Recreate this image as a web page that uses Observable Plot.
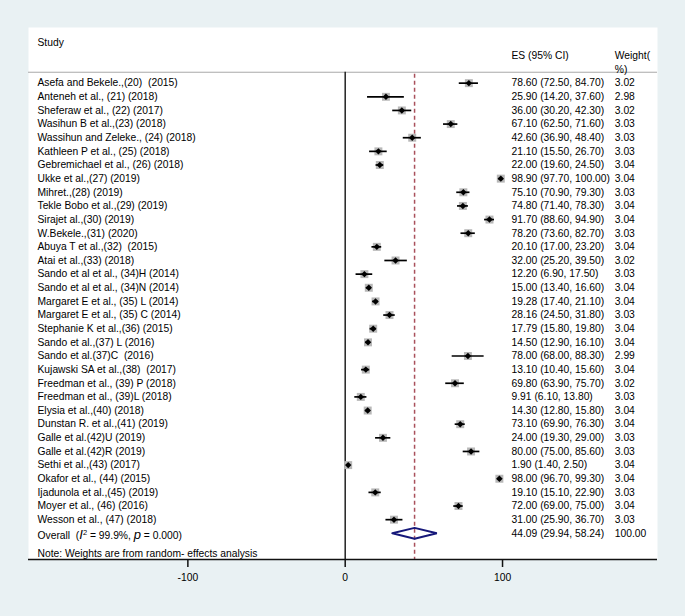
<!DOCTYPE html>
<html>
<head>
<meta charset="utf-8">
<script src="https://cdn.jsdelivr.net/npm/d3@7"></script>
<script src="https://cdn.jsdelivr.net/npm/@observablehq/plot@0.6"></script>
<style>
  html, body { margin: 0; padding: 0; background: #e9f1f3; }
  #chart svg { display: block; }
</style>
</head>
<body>
<div id="chart"></div>
<script>
const studies = [
  "Asefa and Bekele.,(20)  (2015)",
  "Anteneh et al., (21) (2018)",
  "Sheferaw et al., (22) (2017)",
  "Wasihun B et al.,(23) (2018)",
  "Wassihun and Zeleke., (24) (2018)",
  "Kathleen P et al., (25) (2018)",
  "Gebremichael et al., (26) (2018)",
  "Ukke et al.,(27) (2019)",
  "Mihret.,(28) (2019)",
  "Tekle Bobo et al.,(29) (2019)",
  "Sirajet al.,(30) (2019)",
  "W.Bekele.,(31) (2020)",
  "Abuya T et al.,(32)  (2015)",
  "Atai et al.,(33) (2018)",
  "Sando et al et al., (34)H (2014)",
  "Sando et al et al., (34)N (2014)",
  "Margaret E et al., (35) L (2014)",
  "Margaret E et al., (35) C (2014)",
  "Stephanie K et al.,(36) (2015)",
  "Sando et al.,(37) L (2016)",
  "Sando et al.(37)C  (2016)",
  "Kujawski SA et al.,(38)  (2017)",
  "Freedman et al., (39) P (2018)",
  "Freedman et al., (39)L (2018)",
  "Elysia et al.,(40) (2018)",
  "Dunstan R. et al.,(41) (2019)",
  "Galle et al.(42)U (2019)",
  "Galle et al.(42)R (2019)",
  "Sethi et al.,(43) (2017)",
  "Okafor et al., (44) (2015)",
  "Ijadunola et al.,(45) (2019)",
  "Moyer et al., (46) (2016)",
  "Wesson et al., (47) (2018)"
];
const es = [78.60,25.90,36.00,67.10,42.60,21.10,22.00,98.90,75.10,74.80,91.70,78.20,20.10,32.00,12.20,15.00,19.28,28.16,17.79,14.50,78.00,13.10,69.80,9.91,14.30,73.10,24.00,80.00,1.90,98.00,19.10,72.00,31.00];
const lo = [72.50,14.20,30.20,62.50,36.90,15.50,19.60,97.70,70.90,71.40,88.60,73.60,17.00,25.20,6.90,13.40,17.40,24.50,15.80,12.90,68.00,10.40,63.90,6.10,12.80,69.90,19.30,75.00,1.40,96.70,15.10,69.00,25.90];
const hi = [84.70,37.60,42.30,71.60,48.40,26.70,24.50,100.00,79.30,78.30,94.90,82.70,23.20,39.50,17.50,16.60,21.10,31.80,19.80,16.10,88.30,15.60,75.70,13.80,15.80,76.30,29.00,85.60,2.50,99.30,22.90,75.00,36.70];
const weights = [3.02,2.98,3.02,3.03,3.03,3.03,3.04,3.04,3.03,3.04,3.04,3.03,3.04,3.02,3.03,3.04,3.04,3.03,3.04,3.04,2.99,3.04,3.02,3.03,3.04,3.04,3.03,3.03,3.04,3.04,3.03,3.04,3.03];

const overallLabel = "Overall  (I² = 99.9%, p = 0.000)";
const overallES = 44.09, overallLo = 29.94, overallHi = 58.24, overallWeight = 100.00;
const noteText = "Note: Weights are from random- effects analysis";
const headers = {study: "Study", es: "ES (95% CI)", weight1: "Weight(", weight2: "%)"};
const xTicks = [-100, 0, 100];

const f2 = d3.format(".2f");
const rows = studies.map((s, i) => ({
  i, study: s, es: es[i], lo: lo[i], hi: hi[i], w: weights[i],
  esText: `${f2(es[i])} (${f2(lo[i])}, ${f2(hi[i])})`,
  wText: f2(weights[i])
}));
const nRows = rows.length;
const overallRow = {i: nRows, study: overallLabel, es: overallES, lo: overallLo, hi: overallHi,
  esText: `${f2(overallES)} (${f2(overallLo)}, ${f2(overallHi)})`, wText: f2(overallWeight)};
const h = 0.4;
const diamond = [
  {x: overallLo, y: nRows}, {x: overallES, y: nRows - h},
  {x: overallHi, y: nRows}, {x: overallES, y: nRows + h}, {x: overallLo, y: nRows}
];

const fontSize = "10.3px";
const yBottom = 34.92, yTop = -4.08, yHeaderLine = -0.8;
const maroon = "#a9505b";
const navy = "#16187a";

const chart = Plot.plot({
  width: 685,
  height: 616,
  marginLeft: 28,
  marginRight: 28,
  marginTop: 27,
  marginBottom: 57,
  style: {fontFamily: "'Liberation Sans', Arial, sans-serif", fontSize, background: "#e9f1f3", color: "#000"},
  x: {domain: [-201.3, 198.5]},
  y: {domain: [yBottom, yTop], axis: null},
  r: {type: "sqrt", domain: [0, 3.04], range: [0, 4.5]},
  marks: [
    Plot.frame({fill: "white", stroke: "none"}),
    Plot.ruleY([yHeaderLine], {stroke: "#a8a8a8", strokeWidth: 1}),
    Plot.ruleX([0], {y1: yHeaderLine, y2: yBottom, stroke: "#222", strokeWidth: 1.5}),
    Plot.ruleX([overallES], {y1: yHeaderLine + 0.15, y2: yBottom, stroke: maroon, strokeWidth: 1.5, strokeDasharray: "4,3"}),
    Plot.dot(rows, {x: "es", y: "i", r: "w", symbol: "square", fill: "#b8b8b8", stroke: "none"}),
    Plot.ruleY(rows, {y: "i", x1: "lo", x2: "hi", stroke: "#000", strokeWidth: 1.7}),
    Plot.dot(rows, {x: "es", y: "i", r: 2.9, symbol: "diamond2", fill: "#000", stroke: "none"}),
    Plot.line(diamond, {x: "x", y: "y", stroke: navy, strokeWidth: 2, strokeLinejoin: "miter"}),
    Plot.ruleY([yBottom], {stroke: "#111", strokeWidth: 1.5}),
    Plot.axisX(xTicks, {anchor: "bottom", tickSize: 8, tickPadding: 6, strokeWidth: 1.5, stroke: "#111", label: null, tickFormat: d => d < 0 ? "-" + Math.abs(d) : String(d), fontSize: "10.3px"}),
    // left column
    Plot.text(rows, {y: "i", text: "study", frameAnchor: "left", dx: 9, textAnchor: "start", fill: "#000"}),
    Plot.text([overallRow], {y: "i", text: "study", frameAnchor: "left", dx: 9, dy: 2, textAnchor: "start", fill: "#000"}),
    Plot.text([noteText], {y: [nRows + 1.5], text: d => d, frameAnchor: "left", dx: 9, textAnchor: "start", fill: "#000"}),
    Plot.text([headers.study], {y: [-3], text: d => d, frameAnchor: "left", dx: 9, textAnchor: "start", fill: "#000"}),
    // ES column
    Plot.text(rows.concat([overallRow]), {y: "i", text: "esText", frameAnchor: "right", dx: -146, textAnchor: "start", fill: "#000"}),
    Plot.text([headers.es], {y: [-2], text: d => d, frameAnchor: "right", dx: -146, textAnchor: "start", fill: "#000"}),
    // weight column
    Plot.text(rows.concat([overallRow]), {y: "i", text: "wText", frameAnchor: "right", dx: -42.7, textAnchor: "start", fill: "#000"}),
    Plot.text([headers.weight1, headers.weight2], {y: [-2, -1], text: d => d, frameAnchor: "right", dx: -42.7, textAnchor: "start", fill: "#000"})
  ]
});

// Rich formatting for the overall heterogeneity label
d3.select(chart).selectAll("text").each(function() {
  if (this.textContent === overallLabel) {
    const t = d3.select(this);
    t.text(null);
    t.append("tspan").text("Overall  (");
    t.append("tspan").attr("font-style", "italic").attr("font-size", "13px").text("I");
    t.append("tspan").attr("font-size", "7.5px").attr("dy", "-0.5em").text("2");
    t.append("tspan").attr("dy", "0.4em").text(" = 99.9%, ");
    t.append("tspan").attr("font-style", "italic").attr("font-size", "13px").text("p");
    t.append("tspan").text(" = 0.000)");
  }
});

document.getElementById("chart").appendChild(chart);
</script>
</body>
</html>
